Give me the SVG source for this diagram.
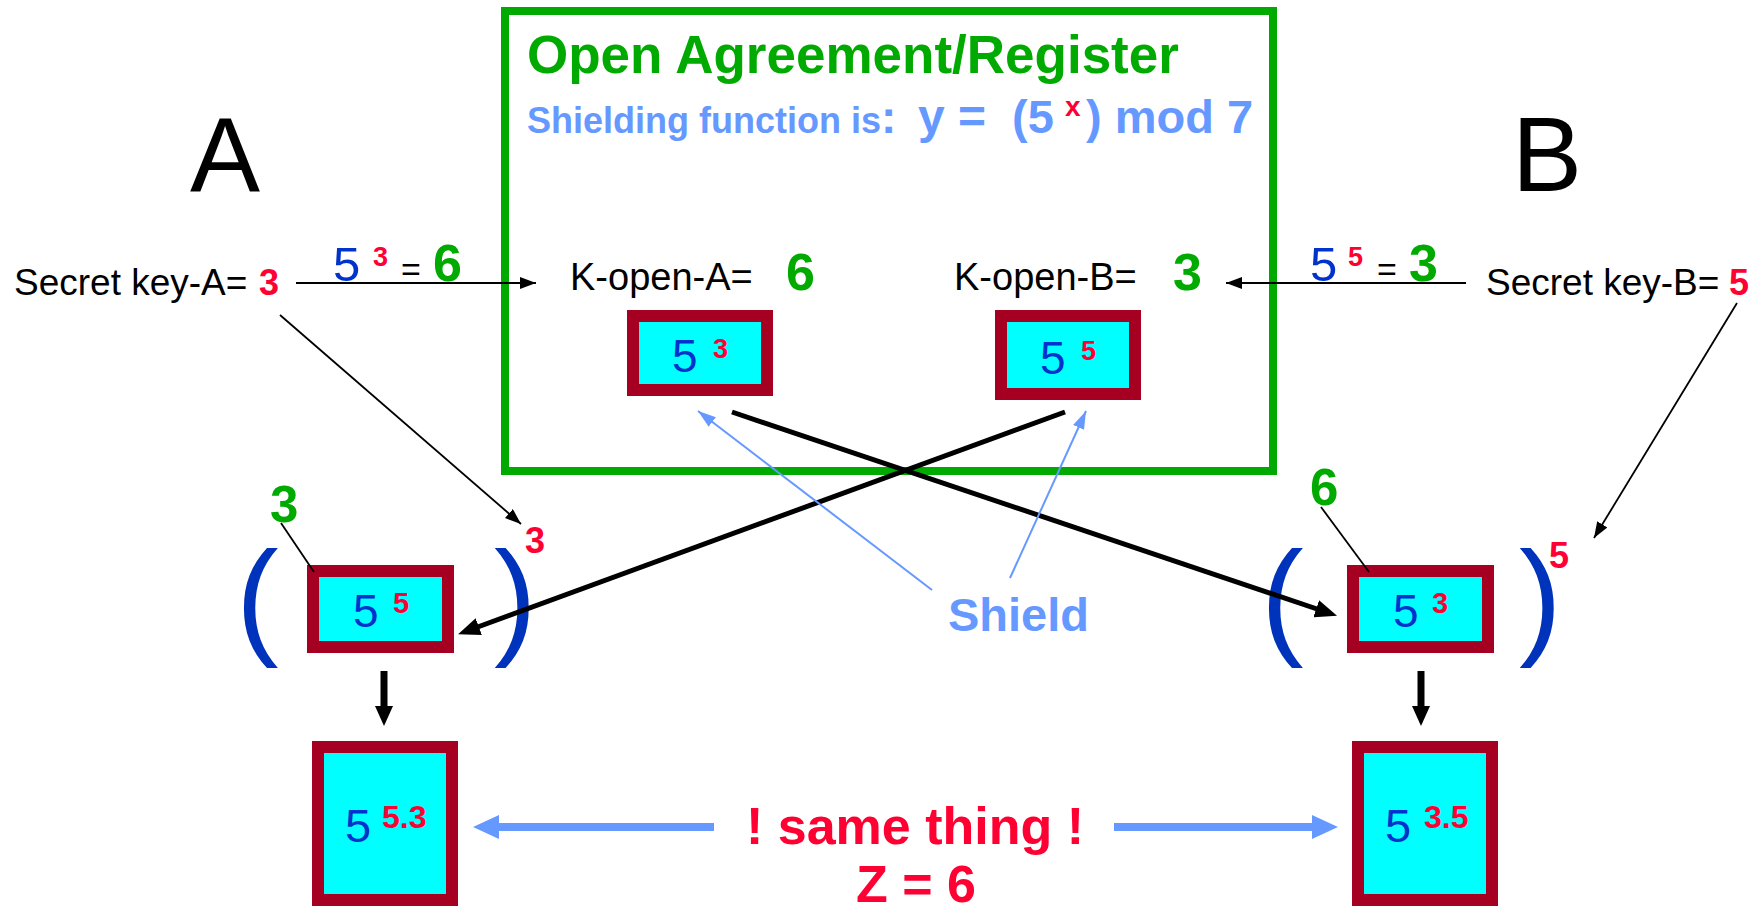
<svg xmlns="http://www.w3.org/2000/svg" width="1760" height="906" viewBox="0 0 1760 906">
<style>
text{font-family:"Liberation Sans",Arial,sans-serif}
.b{font-weight:bold}
.red{fill:#FF0033}
.grn{fill:#00AA00}
.blu{fill:#0033CC}
.lb{fill:#6699FF}
.blk{fill:#000}
.box{fill:#00FFFF;stroke:#A50021;stroke-width:12}
.par{fill:#0033BB;font-size:128px}
.thin{stroke:#000;stroke-width:1.8;fill:none}
.thick{stroke:#000;stroke-width:5;fill:none}
.down{stroke:#000;stroke-width:7;fill:none}
.shl{stroke:#6699FF;stroke-width:2;fill:none}
.same{stroke:#6699FF;stroke-width:8;fill:none}
</style>
<defs>
<marker id="aK" markerUnits="userSpaceOnUse" markerWidth="16" markerHeight="12" refX="16" refY="6" orient="auto"><path d="M0,0 L16,6 L0,12 z" fill="#000"/></marker>
<marker id="aKT" markerUnits="userSpaceOnUse" markerWidth="22" markerHeight="18" refX="4" refY="9" orient="auto"><path d="M0,0 L22,9 L0,18 z" fill="#000"/></marker>
<marker id="aKD" markerUnits="userSpaceOnUse" markerWidth="20" markerHeight="18" refX="4" refY="9" orient="auto"><path d="M0,0 L20,9 L0,18 z" fill="#000"/></marker>
<marker id="aB" markerUnits="userSpaceOnUse" markerWidth="18" markerHeight="12" refX="18" refY="6" orient="auto"><path d="M0,0 L18,6 L0,12 z" fill="#6699FF"/></marker>
<marker id="aBT" markerUnits="userSpaceOnUse" markerWidth="26" markerHeight="24" refX="4" refY="12" orient="auto"><path d="M0,0 L26,12 L0,24 z" fill="#6699FF"/></marker>
</defs>

<g id="register">
<rect x="505" y="11" width="768" height="460" fill="none" stroke="#00AA00" stroke-width="8"/>
<text x="527" y="73" class="b grn" font-size="53">Open Agreement/Register</text>
<text y="133" class="b lb"><tspan x="527" font-size="36">Shielding function is</tspan><tspan font-size="46">:</tspan><tspan x="918" font-size="48">y =</tspan><tspan x="1012" font-size="47">(5</tspan><tspan x="1065" y="116" font-size="28" class="red">x</tspan><tspan x="1086" y="133" font-size="47">) mod 7</tspan></text>
</g>

<g id="labelA"><text x="225" y="191" text-anchor="middle" font-size="105" class="blk">A</text></g>
<g id="labelB"><text x="1547" y="191" text-anchor="middle" font-size="105" class="blk">B</text></g>

<g id="secretA"><text y="295"><tspan x="14" font-size="37" class="blk">Secret key-A=</tspan><tspan x="259" font-size="36" class="b red">3</tspan></text></g>
<g id="secretB"><text y="295"><tspan x="1486" font-size="37" class="blk">Secret key-B=</tspan><tspan x="1729" font-size="36" class="b red">5</tspan></text></g>

<g id="calcA"><text y="281"><tspan x="333" font-size="49" class="blu">5</tspan><tspan x="373" y="266" font-size="27" class="b red">3</tspan><tspan x="401" y="281" font-size="34" class="blk">=</tspan><tspan x="433" font-size="52" class="b grn">6</tspan></text></g>
<g id="calcB"><text y="281"><tspan x="1310" font-size="49" class="blu">5</tspan><tspan x="1348" y="266" font-size="27" class="b red">5</tspan><tspan x="1377" y="281" font-size="34" class="blk">=</tspan><tspan x="1409" font-size="52" class="b grn">3</tspan></text></g>

<g id="kopenA"><text y="290"><tspan x="570" font-size="38" class="blk">K-open-A=</tspan><tspan x="786" font-size="52" class="b grn">6</tspan></text></g>
<g id="kopenB"><text y="290"><tspan x="954" font-size="38" class="blk">K-open-B=</tspan><tspan x="1173" font-size="52" class="b grn">3</tspan></text></g>

<g id="boxA">
<rect x="633" y="316" width="134" height="74" class="box"/>
<text y="372"><tspan x="672" font-size="46" class="blu">5</tspan><tspan x="713" y="358" font-size="27" class="b red">3</tspan></text>
</g>
<g id="boxB">
<rect x="1001" y="316" width="134" height="78" class="box"/>
<text y="374"><tspan x="1040" font-size="46" class="blu">5</tspan><tspan x="1081" y="360" font-size="27" class="b red">5</tspan></text>
</g>

<g id="midA">
<text x="236" y="641" class="par">(</text>
<text x="494" y="641" class="par">)</text>
<text x="525" y="553" font-size="36" class="b red">3</text>
<text x="270" y="522" font-size="51" class="b grn">3</text>
<rect x="313" y="571" width="135" height="76" class="box"/>
<text y="627"><tspan x="353" font-size="46" class="blu">5</tspan><tspan x="393" y="613" font-size="29" class="b red">5</tspan></text>
</g>
<g id="midB">
<text x="1261" y="641" class="par">(</text>
<text x="1519" y="641" class="par">)</text>
<text x="1549" y="568" font-size="36" class="b red">5</text>
<text x="1310" y="505" font-size="51" class="b grn">6</text>
<rect x="1353" y="571" width="135" height="76" class="box"/>
<text y="627"><tspan x="1393" font-size="46" class="blu">5</tspan><tspan x="1432" y="613" font-size="29" class="b red">3</tspan></text>
</g>

<g id="resultA">
<rect x="318" y="747" width="134" height="153" class="box"/>
<text y="842"><tspan x="345" font-size="47" class="blu">5</tspan><tspan x="382" y="828" font-size="32" class="b red">5.3</tspan></text>
</g>
<g id="resultB">
<rect x="1358" y="747" width="134" height="153" class="box"/>
<text y="842"><tspan x="1385" font-size="47" class="blu">5</tspan><tspan x="1424" y="828" font-size="32" class="b red">3.5</tspan></text>
</g>

<g id="shieldLabel"><text x="948" y="631" font-size="47" class="b lb">Shield</text></g>
<g id="sameLabel">
<text x="915" y="844" text-anchor="middle" font-size="52" class="b red">! same thing !</text>
<text x="916" y="902" text-anchor="middle" font-size="52" class="b red">Z = 6</text>
</g>

<g id="connectors">
<line x1="296" y1="283" x2="536" y2="283" class="thin" marker-end="url(#aK)"/>
<line x1="1466" y1="283" x2="1226" y2="283" class="thin" marker-end="url(#aK)"/>
<line x1="280" y1="315" x2="521" y2="524" class="thin" marker-end="url(#aK)"/>
<line x1="1737" y1="303" x2="1594" y2="538" class="thin" marker-end="url(#aK)"/>
<line x1="281" y1="523" x2="314" y2="572" class="thin"/>
<line x1="1321" y1="507" x2="1369" y2="572" class="thin"/>
<line x1="732" y1="412" x2="1320" y2="610" class="thick" marker-end="url(#aKT)"/>
<line x1="1065" y1="412" x2="475" y2="628" class="thick" marker-end="url(#aKT)"/>
<line x1="932" y1="590" x2="698" y2="411" class="shl" marker-end="url(#aB)"/>
<line x1="1010" y1="578" x2="1086" y2="411" class="shl" marker-end="url(#aB)"/>
<line x1="384" y1="671" x2="384" y2="710" class="down" marker-end="url(#aKD)"/>
<line x1="1421" y1="671" x2="1421" y2="710" class="down" marker-end="url(#aKD)"/>
<line x1="714" y1="827" x2="495" y2="827" class="same" marker-end="url(#aBT)"/>
<line x1="1114" y1="827" x2="1316" y2="827" class="same" marker-end="url(#aBT)"/>
</g>
</svg>
